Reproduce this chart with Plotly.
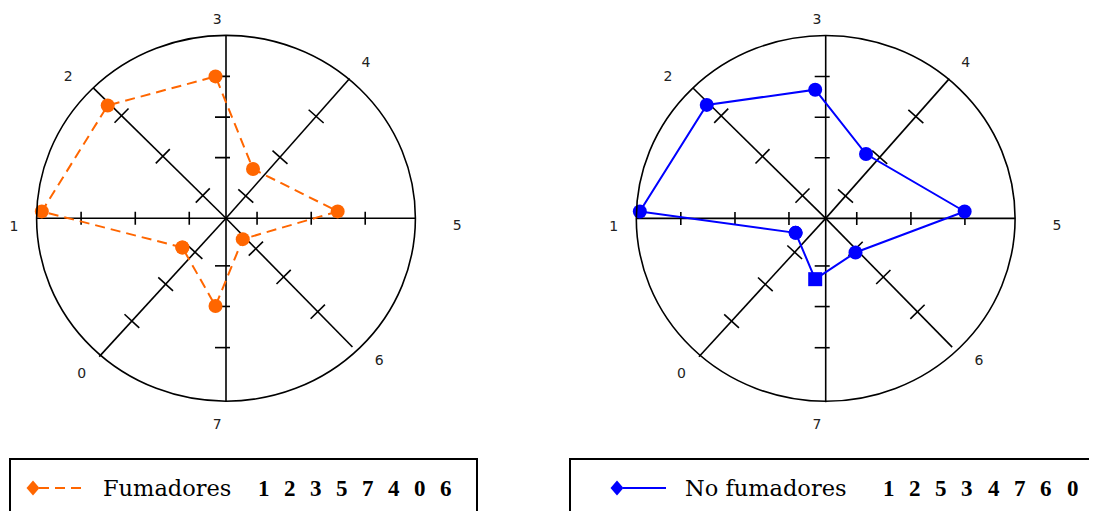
import numpy as np
import plotly.graph_objects as go

# ---------------- data ----------------
AXES = ["0", "1", "2", "3", "4", "5", "6", "7"]
FUMADORES = [2.64, 9.17, 8.12, 7.38, 3.05, 6.45, 2.09, 5.17]
NO_FUMADORES = [1.56, 9.26, 8.17, 6.66, 4.13, 7.89, 3.09, 3.70]
FUM_ORDER = ["1", "2", "3", "5", "7", "4", "0", "6"]
NOFUM_ORDER = ["1", "2", "5", "3", "4", "7", "6", "0"]
AXIS_TICKS = [
    [2.47, 4.81, 7.50],  # 0
    [1.94, 4.79, 7.65],  # 1
    [1.75, 4.76, 7.87],  # 2
    [3.32, 5.53, 7.76],  # 3
    [1.61, 4.39, 7.33],  # 4
    [1.64, 4.50, 7.35],  # 5
    [2.29, 4.42, 7.04],  # 6
    [2.60, 4.82, 7.07],  # 7
]
R_MAX = 10.0
SERIES_NAMES = ["Fumadores", "No fumadores"]

# ---------------- geometry / style ----------------
PAGE_OFF = 8                      # default body margin of the html page
W, H = 1097 - PAGE_OFF, 511 - PAGE_OFF
AXIS_ANGLE = [228.5, 180, 134.5, 90, 49.5, 0, 313.5, 270]
SPOKE_LEN = [10.1, 10.0, 10.0, 10.0, 10.05, 10.0, 9.7, 10.05]
PX_X, PX_Y = 18.94, 18.29          # pixels per data unit
CENTERS = [(226.0, 218.3), (825.7, 218.4)]   # screen pixels
SPLIT = 548.5
SERIES_SHIFT_PX = (-10.5, 6.9)
TICK_EXT = [(-10, 10), (-6.5, 6.5), (-10, 10), (-4, 11), (-10, 10), (-6.5, 6.5), (-10, 10), (-11, 4)]
LABEL_OFF_PX = [(-144.3, -156), (-212, -9), (-157.7, 140.6), (-8.7, 198.3),
                (140, 155), (231.3, -8.4), (153.3, -143.4), (-8.7, -206.7)]
COLORS = ["#FF6600", "#0000FF"]
DASHES = ["10px,6px", "solid"]
SYMBOLS = [["circle"] * 8, ["circle"] * 7 + ["square"]]
AX_COLOR = "#000000"
AX_W = 1.6

ang = np.radians(AXIS_ANGLE)


def segs_spokes():
    xs, ys = [], []
    for k in range(len(AXES)):
        xs += [0, SPOKE_LEN[k] * np.cos(ang[k]), None]
        ys += [0, SPOKE_LEN[k] * np.sin(ang[k]), None]
    return xs, ys


def segs_ticks():
    xs, ys = [], []
    for k in range(len(AXES)):
        ux, uy = np.cos(ang[k]) * PX_X, np.sin(ang[k]) * PX_Y
        n = np.hypot(ux, uy)
        ux, uy = ux / n, uy / n
        px, py = -uy, ux  # perpendicular in pixel space
        a0, a1 = TICK_EXT[k]
        for r in AXIS_TICKS[k]:
            cx, cy = r * np.cos(ang[k]), r * np.sin(ang[k])
            xs += [cx + a0 * px / PX_X, cx + a1 * px / PX_X, None]
            ys += [cy + a0 * py / PX_Y, cy + a1 * py / PX_Y, None]
    return xs, ys


fig = go.Figure()
series = [FUMADORES, NO_FUMADORES]
sx, sy = segs_spokes()
tx, ty = segs_ticks()

for i, vals in enumerate(series):
    xa = "x" if i == 0 else "x2"
    ya = "y" if i == 0 else "y2"
    fig.add_trace(go.Scatter(x=sx, y=sy, mode="lines", xaxis=xa, yaxis=ya,
                             line=dict(color=AX_COLOR, width=AX_W), hoverinfo="skip", showlegend=False))
    fig.add_trace(go.Scatter(x=tx, y=ty, mode="lines", xaxis=xa, yaxis=ya,
                             line=dict(color=AX_COLOR, width=AX_W), hoverinfo="skip", showlegend=False))
    fig.add_shape(type="circle", xref=xa, yref=ya, x0=-R_MAX, x1=R_MAX, y0=-R_MAX, y1=R_MAX,
                  line=dict(color=AX_COLOR, width=AX_W))
    # axis labels
    lx = [o[0] / PX_X for o in LABEL_OFF_PX]
    ly = [o[1] / PX_Y for o in LABEL_OFF_PX]
    fig.add_trace(go.Scatter(x=lx, y=ly, mode="text", text=AXES, xaxis=xa, yaxis=ya,
                             textfont=dict(family="DejaVu Sans", size=14, color="#222222"),
                             hoverinfo="skip", showlegend=False))
    # series polygon
    v = np.array(vals + vals[:1])
    a = np.concatenate([ang, ang[:1]])
    px_ = v * np.cos(a) + SERIES_SHIFT_PX[0] / PX_X
    py_ = v * np.sin(a) + SERIES_SHIFT_PX[1] / PX_Y
    fig.add_trace(go.Scatter(x=px_, y=py_, mode="lines+markers", name=SERIES_NAMES[i],
                             xaxis=xa, yaxis=ya,
                             line=dict(color=COLORS[i], width=2, dash=DASHES[i]),
                             marker=dict(color=COLORS[i], size=14,
                                         symbol=SYMBOLS[i] + SYMBOLS[i][:1]),
                             customdata=AXES + AXES[:1],
                             hovertemplate="%{customdata}<extra></extra>", showlegend=False))

# axes ranges derived from pixel geometry (figure pixels = screen - PAGE_OFF)
doms = [(0, SPLIT - PAGE_OFF), (SPLIT - PAGE_OFF, W)]
layout_axes = {}
for i, (cx, cy) in enumerate(CENTERS):
    cx, cy = cx - PAGE_OFF, cy - PAGE_OFF
    d0, d1 = doms[i]
    xr = [(d0 - cx) / PX_X, (d1 - cx) / PX_X]
    yr = [-(H - cy) / PX_Y, cy / PX_Y]
    sfx = "" if i == 0 else "2"
    layout_axes["xaxis" + sfx] = dict(domain=[d0 / W, d1 / W], range=xr, visible=False,
                                      fixedrange=True, anchor="y" + sfx)
    layout_axes["yaxis" + sfx] = dict(domain=[0, 1], range=yr, visible=False,
                                      fixedrange=True, anchor="x" + sfx)

fig.update_layout(width=W, height=H, margin=dict(l=0, r=0, t=0, b=0),
                  paper_bgcolor="white", plot_bgcolor="white", showlegend=False,
                  **layout_axes)

# ---------------- legend boxes (drawn manually) ----------------
def px2paper(x, y):
    return (x - PAGE_OFF) / W, 1 - (y - PAGE_OFF) / H

LEG = [
    dict(box=(10, 477), diamond=33, line=(39, 81), text=101.0, num0=263.5, step=26.1),
    dict(box=(570, 1110), diamond=617, line=(623, 666), text=683, num0=888.5, step=26.3),
]
ORDERS = [FUM_ORDER, NOFUM_ORDER]
LEG_TOP = 459
LEG_Y = 488
for i, L in enumerate(LEG):
    x0, y0 = px2paper(L["box"][0], LEG_TOP)
    x1, _ = px2paper(L["box"][1], LEG_TOP)
    fig.add_shape(type="rect", xref="paper", yref="paper", x0=x0, x1=x1, y0=-0.2, y1=y0,
                  line=dict(color="black", width=2))
    lx0, ly = px2paper(L["line"][0], LEG_Y)
    lx1, _ = px2paper(L["line"][1], LEG_Y)
    fig.add_shape(type="line", xref="paper", yref="paper", x0=lx0, x1=lx1, y0=ly, y1=ly,
                  line=dict(color=COLORS[i], width=2, dash=DASHES[i]))
    dx, dy = px2paper(L["diamond"], LEG_Y)
    hw, hh = 6.5 / W, 7.5 / H
    fig.add_shape(type="path", xref="paper", yref="paper",
                  path=f"M {dx-hw},{dy} L {dx},{dy+hh} L {dx+hw},{dy} L {dx},{dy-hh} Z",
                  fillcolor=COLORS[i], line=dict(color=COLORS[i], width=0))
    tx0, ty0 = px2paper(L["text"], LEG_Y)
    fig.add_annotation(x=tx0, y=ty0, xref="paper", yref="paper", text=SERIES_NAMES[i],
                       showarrow=False, xanchor="left", yanchor="middle",
                       font=dict(family="DejaVu Serif", size=22.5, color="black"))
    for j, d in enumerate(ORDERS[i]):
        nx, ny = px2paper(L["num0"] + j * L["step"], LEG_Y)
        fig.add_annotation(x=nx, y=ny, xref="paper", yref="paper", text=f"<b>{d}</b>",
                           showarrow=False, xanchor="center", yanchor="middle",
                           font=dict(family="Liberation Serif", size=23, color="black"))

fig.write_html("out.html")
